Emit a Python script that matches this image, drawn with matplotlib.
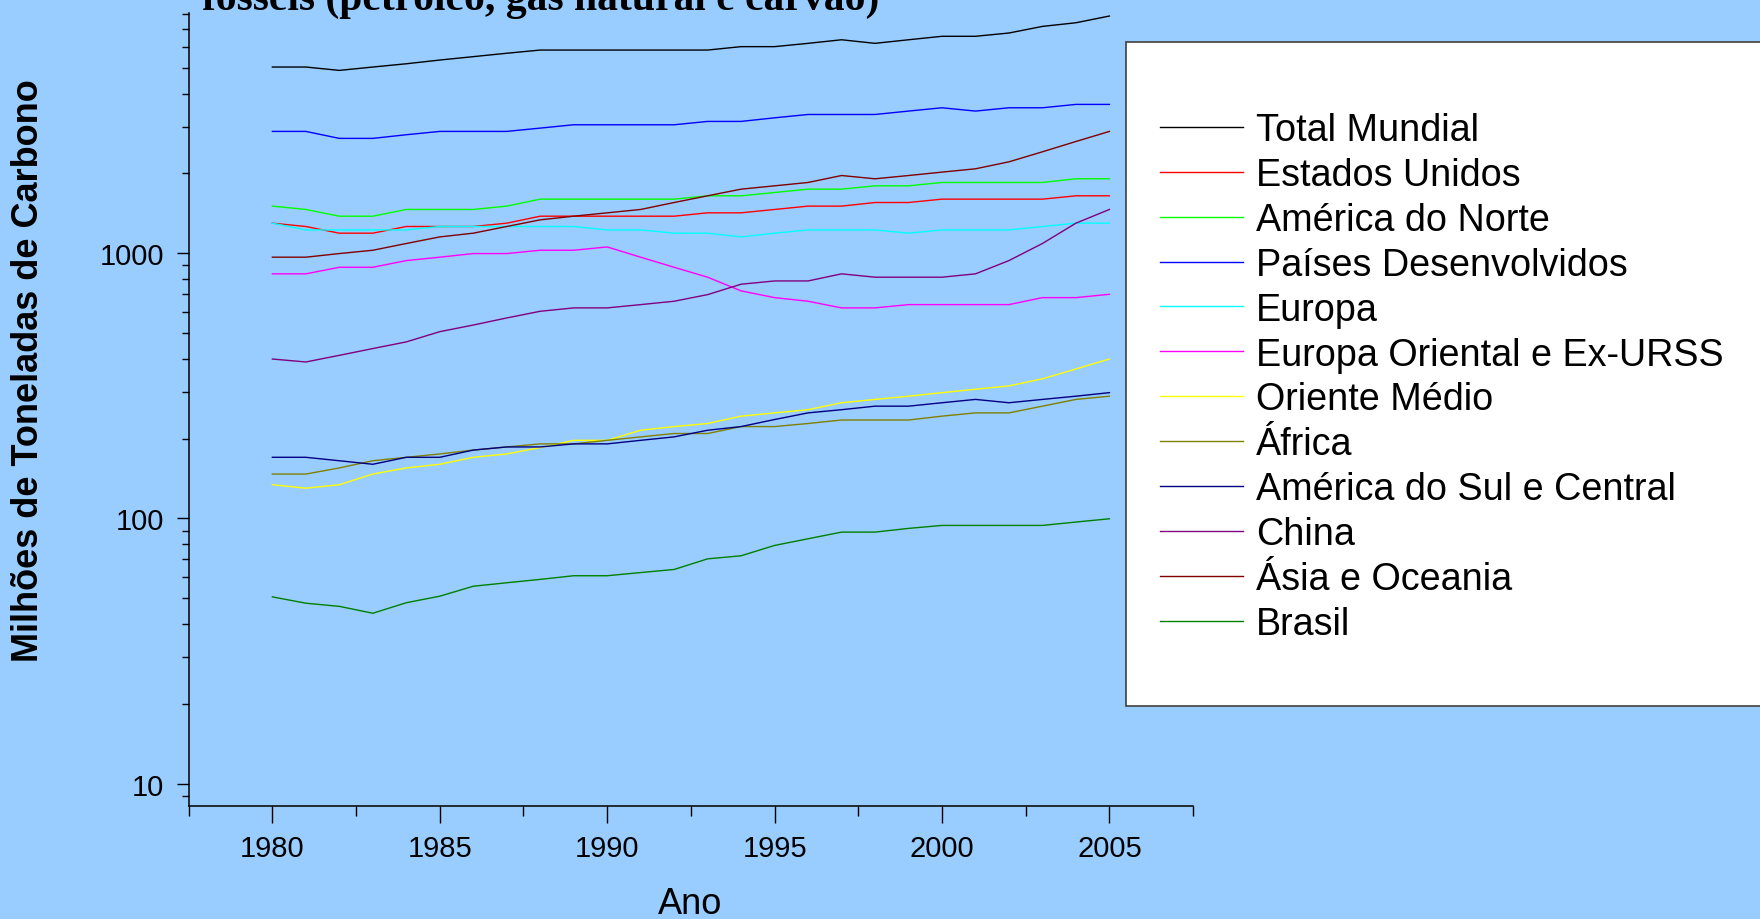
import matplotlib
matplotlib.use("Agg")
import matplotlib.pyplot as plt
from matplotlib.patches import Rectangle
from matplotlib.ticker import FixedLocator, NullFormatter
import numpy as np

plt.rcParams['font.family'] = ['Liberation Sans', 'DejaVu Sans']

# dados (milhoes de toneladas de carbono)
anos = list(range(1980, 2006))

total_mundial = [5035, 5035, 4890, 5035, 5180, 5350, 5510, 5675, 5835, 5835, 5835, 5835, 5835,
                 5835, 6010, 6010, 6185, 6380, 6185, 6380, 6575, 6575, 6765, 7165, 7395, 7840]
estados_unidos = [1298, 1261, 1190, 1190, 1261, 1261, 1261, 1298, 1379, 1379, 1379, 1379, 1379,
                  1420, 1420, 1462, 1505, 1505, 1553, 1553, 1599, 1599, 1599, 1599, 1646, 1646]
america_norte = [1505, 1462, 1379, 1379, 1462, 1462, 1462, 1505, 1599, 1599, 1599, 1599, 1599,
                 1646, 1646, 1694, 1744, 1744, 1795, 1795, 1848, 1848, 1848, 1848, 1908, 1908]
paises_desenv = [2879, 2879, 2710, 2710, 2797, 2879, 2879, 2879, 2963, 3050, 3050, 3050, 3050,
                 3140, 3140, 3240, 3335, 3335, 3335, 3435, 3535, 3435, 3535, 3535, 3640, 3640]
europa = [1298, 1224, 1224, 1224, 1224, 1261, 1261, 1261, 1261, 1261, 1224, 1224, 1190,
          1190, 1152, 1190, 1224, 1224, 1224, 1190, 1224, 1224, 1224, 1261, 1298, 1298]
europa_oriental = [836, 836, 885, 885, 938, 966, 997, 997, 1026, 1026, 1056, 966, 885,
                   812, 721, 680, 659, 622, 622, 640, 640, 640, 640, 680, 680, 700]
oriente_medio = [134, 130, 134, 147, 155, 160, 170, 175, 185, 197, 197, 215, 222,
                 228, 243, 250, 257, 273, 281, 289, 298, 307, 316, 336, 366, 399]
africa = [147, 147, 155, 165, 170, 175, 181, 186, 191, 191, 197, 203, 209,
          209, 222, 222, 228, 235, 235, 235, 243, 250, 250, 265, 281, 289]
america_sul = [170, 170, 165, 160, 170, 170, 181, 186, 186, 191, 191, 197, 203,
               215, 222, 236, 250, 257, 265, 265, 273, 281, 273, 281, 289, 298]
china = [399, 389, 412, 437, 463, 506, 536, 570, 604, 622, 622, 640, 659,
         698, 764, 786, 786, 836, 812, 812, 812, 836, 938, 1088, 1298, 1462]
asia_oceania = [966, 966, 997, 1026, 1088, 1152, 1190, 1261, 1336, 1379, 1420, 1462, 1553,
                1646, 1744, 1795, 1848, 1963, 1908, 1963, 2022, 2081, 2211, 2412, 2638, 2879]
brasil = [50.6, 47.9, 46.6, 43.9, 48.1, 50.9, 55.5, 57.2, 58.9, 60.8, 60.8, 62.5, 64.2,
          70.4, 72.3, 79.1, 83.8, 88.8, 88.8, 91.7, 94.1, 94.1, 94.1, 94.1, 96.9, 99.7]

series = [
    ('Total Mundial', total_mundial, 'black'),
    ('Estados Unidos', estados_unidos, '#FF0000'),
    ('América do Norte', america_norte, '#00FF00'),
    ('Países Desenvolvidos', paises_desenv, '#0000FF'),
    ('Europa', europa, '#00FFFF'),
    ('Europa Oriental e Ex-URSS', europa_oriental, '#FF00FF'),
    ('Oriente Médio', oriente_medio, '#FFFF00'),
    ('África', africa, '#808000'),
    ('América do Sul e Central', america_sul, '#000080'),
    ('China', china, '#800080'),
    ('Ásia e Oceania', asia_oceania, '#800000'),
    ('Brasil', brasil, '#008000'),
]

fundo = '#99CCFF'
fig = plt.figure(figsize=(17.6, 9.2), dpi=100, facecolor=fundo)
ax = fig.add_axes([0.1072, 0.1223, 0.5707, 0.8625], facecolor=fundo)

for nome, valores, cor in series:
    ax.plot(anos, valores, color=cor, lw=1.0, label=nome)

ax.set_yscale('log')
ax.set_ylim(8.2, 8050)
ax.set_xlim(1977.5, 2007.5)

ax.yaxis.set_major_locator(FixedLocator([10, 100, 1000]))
ax.set_yticklabels(['10', '100', '1000'])
minors = [m * 10 ** d for d in range(0, 4) for m in range(2, 10)]
ax.yaxis.set_minor_locator(FixedLocator(minors))
ax.yaxis.set_minor_formatter(NullFormatter())

ax.set_xticks(range(1980, 2006, 5))
ax.xaxis.set_minor_locator(FixedLocator(np.arange(1977.5, 2008, 5)))

ax.tick_params(axis='x', which='major', length=12, width=1, pad=8, labelsize=21)
ax.tick_params(axis='x', which='minor', length=7, width=1)
ax.tick_params(axis='y', which='major', length=8.5, width=1, pad=9, labelsize=21)
ax.tick_params(axis='y', which='minor', length=5, width=1)

for s in ['top', 'right']:
    ax.spines[s].set_visible(False)
for s in ['left', 'bottom']:
    ax.spines[s].set_linewidth(1.1)

fig.text(0.392, 0.017, 'Ano', ha='center', va='center', fontsize=26)
fig.text(0.016, 0.597, 'Milhões de Toneladas de Carbono', rotation=90, ha='center',
         va='center', fontsize=26, fontweight='bold')
fig.text(0.307, 0.9897, 'fósseis (petróleo, gás natural e carvão)', ha='center',
         va='baseline', fontsize=30, fontweight='bold', family='Liberation Serif')

# caixa da legenda
fig.patches.append(Rectangle((0.640, 0.2312), 0.40, 0.7217, transform=fig.transFigure,
                             facecolor='white', edgecolor='#404040', lw=1.2, zorder=3))
leg = fig.legend(loc='upper left', bbox_to_anchor=(0.659, 0.877), frameon=False,
                 fontsize=27.2, handlelength=2.2, handletextpad=0.34, labelspacing=0.235,
                 borderpad=0, borderaxespad=0)
leg.set_zorder(4)

fig.savefig('out.png', dpi=100, facecolor=fundo)
